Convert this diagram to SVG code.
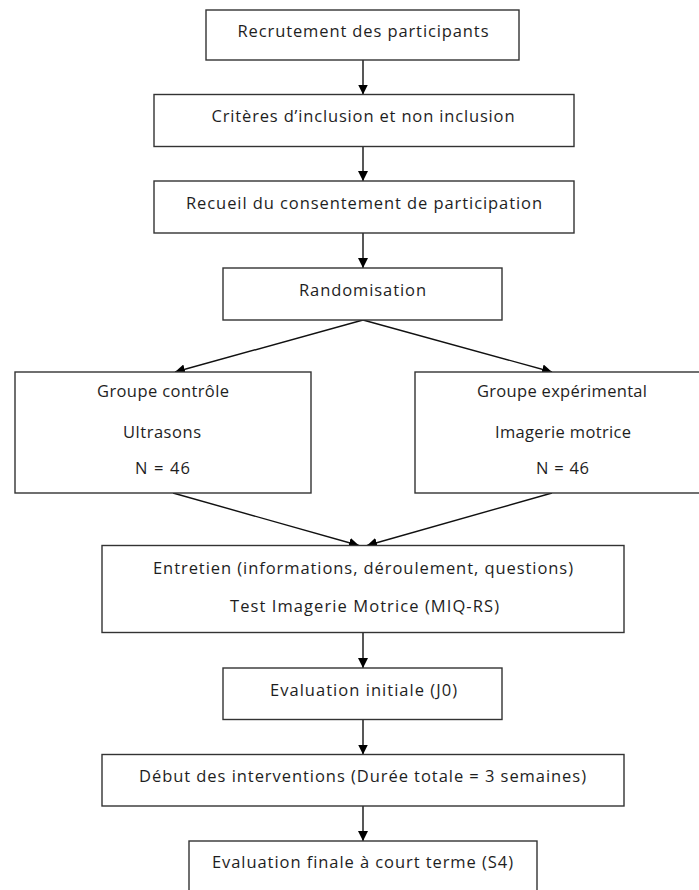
<svg xmlns="http://www.w3.org/2000/svg" width="699" height="890" viewBox="0 0 699 890">
<defs>
<marker id="ah" markerUnits="userSpaceOnUse" markerWidth="10" markerHeight="10" refX="10" refY="5" orient="auto">
<path d="M0,0 L10,5 L0,10 z" fill="#000"/>
</marker>
<style>
.box{fill:#fff;stroke:#333;stroke-width:1.4}
.t{font-family:"Open Sans","Liberation Sans",sans-serif;font-size:16.5px;fill:#1e1e1e;text-anchor:middle;font-variant-ligatures:none}
.c{stroke:#111;stroke-width:1.4;fill:none;marker-end:url(#ah)}
</style>
</defs>
<rect width="699" height="890" fill="#fff"/>
<g id="connectors">
<line class="c" x1="363" y1="60" x2="363" y2="94.5"/>
<line class="c" x1="363" y1="146.5" x2="363" y2="181"/>
<line class="c" x1="363" y1="233" x2="363" y2="268"/>
<line class="c" x1="363" y1="320" x2="175" y2="372"/>
<line class="c" x1="363" y1="320" x2="552" y2="372"/>
<line class="c" x1="173" y1="493" x2="359" y2="545.5"/>
<line class="c" x1="552" y1="493" x2="367" y2="545.5"/>
<line class="c" x1="363" y1="632.5" x2="363" y2="668"/>
<line class="c" x1="363" y1="719.5" x2="363" y2="754.5"/>
<line class="c" x1="363" y1="806" x2="363" y2="841"/>
</g>
<g id="n1"><rect class="box" x="206" y="10" width="313" height="50"/><text class="t" x="363" y="36.5" textLength="251" lengthAdjust="spacing">Recrutement des participants</text></g>
<g id="n2"><rect class="box" x="154" y="94.5" width="420" height="52"/><text class="t" x="363" y="121.5" textLength="303" lengthAdjust="spacing">Critères d’inclusion et non inclusion</text></g>
<g id="n3"><rect class="box" x="154" y="181" width="420" height="52"/><text class="t" x="364" y="208.5" textLength="356" lengthAdjust="spacing">Recueil du consentement de participation</text></g>
<g id="n4"><rect class="box" x="223" y="268" width="279" height="52"/><text class="t" x="362.5" y="295.5" textLength="127" lengthAdjust="spacing">Randomisation</text></g>
<g id="n5"><rect class="box" x="15" y="372" width="296" height="121"/>
<text class="t" x="163" y="396.5" textLength="132" lengthAdjust="spacing">Groupe contrôle</text>
<text class="t" x="162" y="437.5" textLength="78" lengthAdjust="spacing">Ultrasons</text>
<text class="t" x="162.5" y="473.5" textLength="55" lengthAdjust="spacing">N = 46</text></g>
<g id="n6"><rect class="box" x="415" y="372" width="300" height="121"/>
<text class="t" x="562" y="396.5" textLength="170" lengthAdjust="spacing">Groupe expérimental</text>
<text class="t" x="563" y="437.5" textLength="136" lengthAdjust="spacing">Imagerie motrice</text>
<text class="t" x="562.5" y="473.5" textLength="53" lengthAdjust="spacing">N = 46</text></g>
<g id="n7"><rect class="box" x="102" y="545.5" width="522" height="87"/>
<text class="t" x="363" y="573.5" textLength="420" lengthAdjust="spacing">Entretien (informations, déroulement, questions)</text>
<text class="t" x="364.5" y="611.5" textLength="269" lengthAdjust="spacing">Test Imagerie Motrice (MIQ-RS)</text></g>
<g id="n8"><rect class="box" x="223" y="668" width="279" height="51.5"/><text class="t" x="363.5" y="695.5" textLength="187" lengthAdjust="spacing">Evaluation initiale (J0)</text></g>
<g id="n9"><rect class="box" x="102" y="754.5" width="522" height="51.5"/><text class="t" x="362.5" y="781.5" textLength="447" lengthAdjust="spacing">Début des interventions (Durée totale = 3 semaines)</text></g>
<g id="n10"><rect class="box" x="189" y="841" width="348" height="60"/><text class="t" x="362.5" y="867.5" textLength="301" lengthAdjust="spacing">Evaluation finale à court terme (S4)</text></g>
</svg>
